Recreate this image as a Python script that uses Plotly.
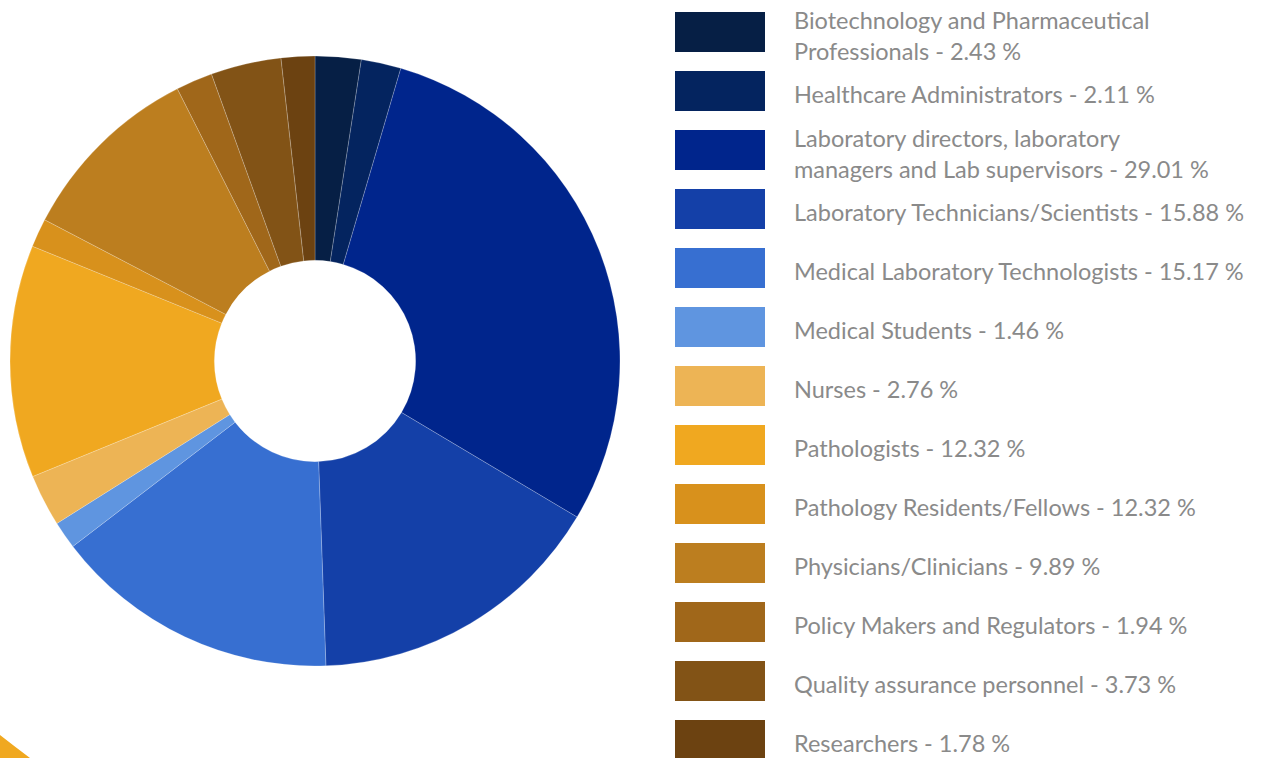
import plotly.graph_objects as go

labels = [
    "Biotechnology and Pharmaceutical Professionals",
    "Healthcare Administrators",
    "Laboratory directors, laboratory managers and Lab supervisors",
    "Laboratory Technicians/Scientists",
    "Medical Laboratory Technologists",
    "Medical Students",
    "Nurses",
    "Pathologists",
    "Pathology Residents/Fellows",
    "Physicians/Clinicians",
    "Policy Makers and Regulators",
    "Quality assurance personnel",
    "Researchers",
]
# slice sizes as drawn
values = [2.43, 2.11, 29.01, 15.88, 15.17, 1.46, 2.76, 12.32, 1.52, 9.89, 1.94, 3.73, 1.78]
# legend texts as printed on the chart
legend_text = [
    "Biotechnology and Pharmaceutical<br>Professionals - 2.43 %",
    "Healthcare Administrators - 2.11 %",
    "Laboratory directors, laboratory<br>managers and Lab supervisors - 29.01 %",
    "Laboratory Technicians/Scientists - 15.88 %",
    "Medical Laboratory Technologists - 15.17 %",
    "Medical Students - 1.46 %",
    "Nurses - 2.76 %",
    "Pathologists - 12.32 %",
    "Pathology Residents/Fellows - 12.32 %",
    "Physicians/Clinicians - 9.89 %",
    "Policy Makers and Regulators - 1.94 %",
    "Quality assurance personnel - 3.73 %",
    "Researchers - 1.78 %",
]
colors = [
    "#061f45", "#04245f", "#00258c", "#1440a8", "#376fd1", "#5f95e0",
    "#edb455", "#f0a820", "#d8911c", "#bc7e1f", "#a0671a", "#825316", "#6c4211",
]

W, H = 1270, 758

fig = go.Figure(go.Pie(
    labels=labels, values=values, hole=0.33, sort=False,
    direction="clockwise", rotation=0,
    marker=dict(colors=colors, line=dict(color="rgba(255,255,255,0.35)", width=0.6)),
    textinfo="none", showlegend=False,
    domain=dict(x=[10 / W, 620 / W], y=[1 - 666 / H, 1 - 56 / H]),
))

shapes = []
annotations = []
font = dict(family="Lato", size=23.5, color="#8a8a8a")
for i, (t, c) in enumerate(zip(legend_text, colors)):
    top = 12 + 59 * i
    bot = top + 40
    shapes.append(dict(type="rect", xref="paper", yref="paper",
                       x0=675 / W, x1=765 / W, y0=1 - bot / H, y1=1 - top / H,
                       fillcolor=c, line=dict(width=0), layer="above"))
    annotations.append(dict(xref="paper", yref="paper", x=792 / W, y=1 - (top + 23) / H,
                            text=t, showarrow=False, xanchor="left", yanchor="middle",
                            align="left", font=font))

# decorative corner shape
shapes.append(dict(type="path", xref="paper", yref="paper",
                   path=f"M 0,{23 / H} Q {14 / W},{12 / H} {30 / W},0 L 0,0 Z",
                   fillcolor="#f0a820", line=dict(width=0)))

fig.update_layout(
    width=W, height=H, margin=dict(l=0, r=0, t=0, b=0),
    paper_bgcolor="white", plot_bgcolor="white",
    shapes=shapes, annotations=annotations,
)
fig.write_html("out.html", config={"displayModeBar": False},
               post_script="document.body.style.margin='0';document.body.style.overflow='hidden';")
